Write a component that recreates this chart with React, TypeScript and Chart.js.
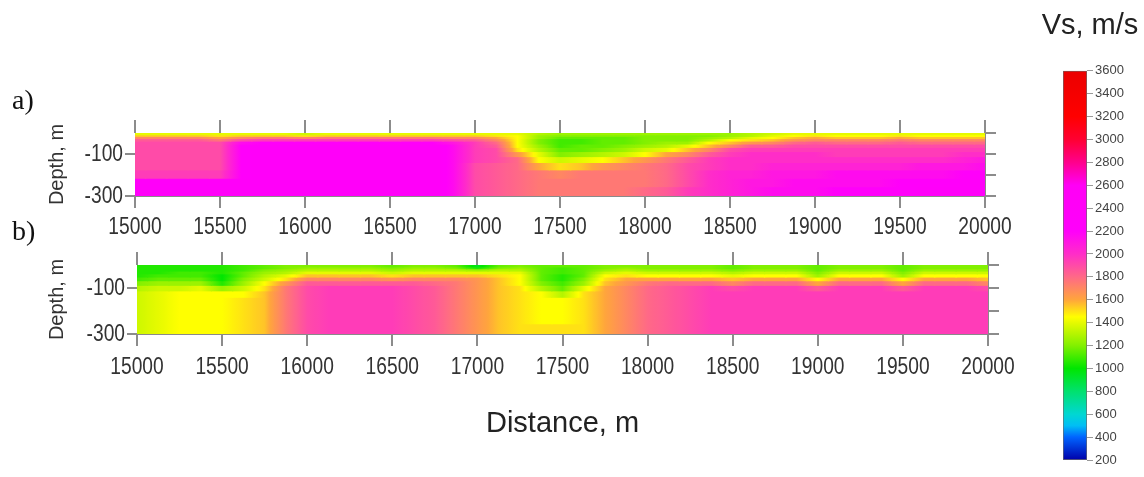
import React, { useEffect, useRef } from 'react';
import { Chart, registerables } from 'chart.js';

Chart.register(...registerables);

// ---------- data ----------
const DISTANCES = [
  15000, 15125, 15250, 15375, 15500, 15625, 15750, 15875, 16000, 16125, 16250,
  16375, 16500, 16625, 16750, 16875, 17000, 17125, 17250, 17375, 17500, 17625,
  17750, 17875, 18000, 18125, 18250, 18375, 18500, 18625, 18750, 18875, 19000,
  19125, 19250, 19375, 19500, 19625, 19750, 19875, 20000,
];
// depth layer edges (m below surface)
const DEPTH_EDGES = [0, 8, 16, 26, 38, 52, 68, 88, 112, 140, 175, 215, 255, 300];

// Vs (m/s) profile per station, one value per depth layer — section a)
const VS_A: number[][] = [
  [1400, 1550, 1700, 1850, 1900, 1900, 1900, 1900, 1900, 1900, 1950, 2300, 2300],
  [1400, 1550, 1700, 1850, 1900, 1900, 1900, 1900, 1900, 1900, 1950, 2300, 2300],
  [1400, 1550, 1700, 1850, 1900, 1900, 1900, 1900, 1900, 1900, 1950, 2300, 2300],
  [1400, 1550, 1700, 1850, 1900, 1900, 1900, 1900, 1900, 1900, 1950, 2300, 2300],
  [1400, 1500, 1600, 1750, 1900, 1900, 1900, 1900, 1900, 1900, 1950, 2300, 2300],
  [1400, 1550, 1700, 1900, 2150, 2200, 2200, 2200, 2200, 2200, 2200, 2300, 2300],
  [1400, 1550, 1750, 1950, 2200, 2300, 2300, 2300, 2300, 2300, 2300, 2300, 2300],
  [1400, 1550, 1750, 1950, 2200, 2300, 2300, 2300, 2300, 2300, 2300, 2300, 2300],
  [1350, 1500, 1700, 1950, 2200, 2300, 2300, 2300, 2300, 2300, 2300, 2300, 2300],
  [1400, 1550, 1750, 1950, 2200, 2300, 2300, 2300, 2300, 2300, 2300, 2300, 2300],
  [1400, 1550, 1750, 1950, 2200, 2300, 2300, 2300, 2300, 2300, 2300, 2300, 2300],
  [1400, 1550, 1750, 1950, 2200, 2300, 2300, 2300, 2300, 2300, 2300, 2300, 2300],
  [1400, 1550, 1750, 1950, 2200, 2300, 2300, 2300, 2300, 2300, 2300, 2300, 2300],
  [1400, 1550, 1750, 1950, 2200, 2300, 2300, 2300, 2300, 2300, 2300, 2300, 2300],
  [1400, 1550, 1750, 1950, 2200, 2300, 2300, 2300, 2300, 2300, 2300, 2300, 2300],
  [1400, 1550, 1700, 1900, 2100, 2150, 2150, 2150, 2150, 2150, 2150, 2150, 2150],
  [1400, 1550, 1700, 1850, 1950, 1950, 1950, 1950, 1950, 1900, 1900, 1900, 1900],
  [1400, 1500, 1600, 1700, 1800, 1850, 1900, 1900, 1900, 1850, 1850, 1850, 1850],
  [1400, 1450, 1450, 1450, 1450, 1450, 1500, 1650, 1800, 1800, 1800, 1800, 1800],
  [1300, 1250, 1250, 1200, 1200, 1250, 1300, 1400, 1450, 1600, 1750, 1750, 1750],
  [1250, 1200, 1150, 1100, 1100, 1100, 1150, 1200, 1350, 1500, 1700, 1750, 1750],
  [1250, 1200, 1150, 1100, 1100, 1150, 1150, 1250, 1400, 1550, 1750, 1750, 1750],
  [1250, 1200, 1150, 1150, 1150, 1150, 1200, 1300, 1450, 1650, 1750, 1750, 1750],
  [1250, 1200, 1150, 1150, 1150, 1200, 1250, 1350, 1550, 1700, 1750, 1750, 1750],
  [1250, 1200, 1200, 1200, 1200, 1250, 1350, 1450, 1650, 1750, 1750, 1750, 1800],
  [1250, 1200, 1200, 1200, 1250, 1300, 1400, 1600, 1750, 1800, 1800, 1800, 1850],
  [1250, 1200, 1200, 1200, 1250, 1400, 1550, 1700, 1850, 1900, 1900, 1900, 1950],
  [1250, 1200, 1250, 1300, 1450, 1550, 1700, 1850, 1950, 1950, 2000, 2000, 2000],
  [1250, 1250, 1300, 1450, 1550, 1700, 1900, 1950, 2000, 2000, 2050, 2050, 2050],
  [1300, 1300, 1400, 1500, 1650, 1850, 1950, 2000, 2000, 2000, 2050, 2100, 2100],
  [1350, 1400, 1450, 1550, 1700, 1850, 1950, 2000, 2000, 2050, 2100, 2100, 2150],
  [1400, 1450, 1550, 1650, 1800, 1900, 1950, 2000, 2000, 2050, 2100, 2150, 2150],
  [1400, 1500, 1600, 1700, 1850, 1900, 1950, 2000, 2000, 2050, 2100, 2150, 2150],
  [1400, 1450, 1550, 1700, 1800, 1900, 1950, 1950, 2000, 2050, 2150, 2150, 2200],
  [1400, 1450, 1550, 1700, 1800, 1900, 1950, 1950, 2000, 2050, 2150, 2150, 2200],
  [1400, 1450, 1550, 1700, 1800, 1900, 1950, 1950, 2000, 2050, 2150, 2150, 2200],
  [1400, 1500, 1600, 1750, 1850, 1900, 1950, 1950, 2000, 2050, 2150, 2200, 2200],
  [1400, 1450, 1550, 1700, 1800, 1900, 1950, 1950, 2000, 2100, 2150, 2200, 2250],
  [1400, 1450, 1550, 1700, 1800, 1900, 1950, 1950, 2000, 2100, 2150, 2200, 2250],
  [1400, 1450, 1550, 1700, 1800, 1900, 1950, 2000, 2050, 2100, 2200, 2250, 2300],
  [1400, 1450, 1550, 1700, 1800, 1900, 1950, 2000, 2100, 2150, 2250, 2300, 2300],
];

// section b)
const VS_B: number[][] = [
  [1050, 1050, 1050, 1050, 1050, 1100, 1200, 1300, 1350, 1350, 1350, 1350, 1350],
  [1050, 1050, 1050, 1050, 1100, 1150, 1250, 1350, 1400, 1400, 1400, 1400, 1400],
  [1050, 1050, 1050, 1100, 1100, 1150, 1250, 1350, 1450, 1450, 1450, 1450, 1450],
  [1050, 1050, 1050, 1100, 1100, 1150, 1250, 1400, 1450, 1450, 1450, 1450, 1450],
  [1050, 1050, 1050, 1050, 1000, 1000, 1050, 1250, 1450, 1450, 1450, 1450, 1450],
  [1100, 1100, 1100, 1150, 1150, 1200, 1250, 1350, 1450, 1500, 1500, 1500, 1500],
  [1150, 1150, 1200, 1250, 1300, 1350, 1450, 1500, 1550, 1550, 1550, 1550, 1550],
  [1200, 1200, 1250, 1300, 1400, 1500, 1650, 1750, 1750, 1750, 1750, 1750, 1750],
  [1200, 1250, 1300, 1400, 1550, 1700, 1850, 1900, 1900, 1900, 1900, 1900, 1900],
  [1200, 1250, 1300, 1400, 1550, 1700, 1850, 1950, 1950, 1950, 1950, 1950, 1950],
  [1200, 1250, 1300, 1400, 1550, 1700, 1850, 1950, 1950, 1950, 1950, 1950, 1950],
  [1200, 1250, 1300, 1400, 1550, 1700, 1850, 1950, 1950, 1950, 1950, 1950, 1950],
  [1150, 1200, 1250, 1350, 1500, 1650, 1850, 1950, 1950, 1950, 1950, 1950, 1950],
  [1200, 1250, 1300, 1400, 1550, 1700, 1850, 1900, 1900, 1900, 1900, 1900, 1900],
  [1200, 1250, 1300, 1400, 1550, 1700, 1800, 1850, 1850, 1850, 1850, 1850, 1850],
  [1150, 1200, 1300, 1400, 1550, 1700, 1750, 1750, 1750, 1750, 1750, 1750, 1750],
  [950, 1050, 1250, 1400, 1550, 1650, 1650, 1650, 1650, 1650, 1650, 1650, 1650],
  [1150, 1200, 1300, 1400, 1500, 1550, 1550, 1550, 1550, 1550, 1550, 1550, 1550],
  [1200, 1250, 1300, 1400, 1450, 1450, 1450, 1500, 1500, 1500, 1500, 1500, 1500],
  [1150, 1150, 1150, 1150, 1150, 1150, 1200, 1300, 1450, 1450, 1450, 1450, 1500],
  [1150, 1100, 1100, 1100, 1050, 1050, 1100, 1150, 1300, 1450, 1450, 1450, 1500],
  [1150, 1150, 1150, 1150, 1150, 1200, 1250, 1400, 1500, 1500, 1500, 1500, 1500],
  [1200, 1200, 1250, 1350, 1450, 1500, 1550, 1600, 1600, 1600, 1600, 1600, 1600],
  [1200, 1250, 1300, 1400, 1500, 1600, 1650, 1700, 1700, 1700, 1700, 1700, 1700],
  [1200, 1200, 1250, 1350, 1450, 1600, 1750, 1800, 1800, 1800, 1800, 1800, 1800],
  [1200, 1200, 1250, 1350, 1450, 1600, 1800, 1850, 1850, 1850, 1850, 1850, 1850],
  [1200, 1200, 1250, 1350, 1450, 1600, 1800, 1900, 1900, 1900, 1900, 1900, 1900],
  [1200, 1200, 1250, 1350, 1450, 1600, 1800, 1950, 1950, 1950, 1950, 1950, 1950],
  [1150, 1150, 1200, 1300, 1400, 1550, 1700, 1900, 1950, 1950, 1950, 1950, 1950],
  [1200, 1200, 1250, 1350, 1450, 1600, 1800, 1950, 1950, 1950, 1950, 1950, 1950],
  [1200, 1200, 1250, 1350, 1450, 1600, 1800, 1950, 1950, 1950, 1950, 1950, 1950],
  [1200, 1200, 1250, 1350, 1450, 1600, 1800, 1950, 1950, 1950, 1950, 1950, 1950],
  [1150, 1150, 1150, 1200, 1250, 1450, 1600, 1850, 1950, 1950, 1950, 1950, 1950],
  [1200, 1200, 1250, 1350, 1450, 1600, 1800, 1950, 1950, 1950, 1950, 1950, 1950],
  [1200, 1200, 1250, 1350, 1450, 1600, 1800, 1950, 1950, 1950, 1950, 1950, 1950],
  [1200, 1200, 1250, 1350, 1450, 1600, 1800, 1950, 1950, 1950, 1950, 1950, 1950],
  [1150, 1150, 1150, 1200, 1250, 1450, 1600, 1850, 1950, 1950, 1950, 1950, 1950],
  [1200, 1200, 1250, 1350, 1450, 1600, 1800, 1950, 1950, 1950, 1950, 1950, 1950],
  [1200, 1200, 1250, 1350, 1450, 1600, 1800, 1950, 1950, 1950, 1950, 1950, 1950],
  [1200, 1200, 1250, 1350, 1450, 1600, 1800, 1950, 1950, 1950, 1950, 1950, 1950],
  [1200, 1200, 1250, 1350, 1450, 1550, 1700, 1900, 1950, 1950, 1950, 1950, 1950],
];

const DISTANCE_MIN = 15000;
const DISTANCE_MAX = 20000;
const DISTANCE_STEP = 500;
const DEPTH_MIN = -300;
const DEPTH_MAX = 0;
const DEPTH_STEP = 100;
const DEPTH_LABELED = [-100, -300];
const VS_MIN = 200;
const VS_MAX = 3600;
const VS_STEP = 200;

// colour scale: [Vs, r, g, b]
const COLOR_STOPS: [number, number, number, number][] = [
  [200, 0, 0, 170],
  [400, 0, 100, 255],
  [500, 0, 190, 245],
  [600, 0, 215, 210],
  [800, 0, 225, 110],
  [1000, 0, 230, 0],
  [1200, 130, 240, 0],
  [1400, 230, 250, 0],
  [1450, 255, 255, 0],
  [1600, 255, 165, 60],
  [1800, 255, 105, 135],
  [2000, 255, 45, 200],
  [2200, 255, 0, 250],
  [2600, 255, 0, 245],
  [2800, 255, 0, 140],
  [3000, 255, 0, 50],
  [3200, 255, 0, 0],
  [3600, 235, 0, 0],
];

// ---------- helpers ----------
const SANS = "'Liberation Sans', Arial, sans-serif";
const TEXT = '#333333';
const TICK = '#8c8c8c';
const TICK_FONT = 24;
const TICK_SQUEEZE = 0.8;

function colorAt(v: number): string {
  const s = COLOR_STOPS;
  let c = [s[s.length - 1][1], s[s.length - 1][2], s[s.length - 1][3]];
  if (v <= s[0][0]) c = [s[0][1], s[0][2], s[0][3]];
  else {
    for (let k = 0; k < s.length - 1; k++) {
      const a = s[k], b = s[k + 1];
      if (v <= b[0]) {
        const t = (v - a[0]) / (b[0] - a[0]);
        c = [a[1] + (b[1] - a[1]) * t, a[2] + (b[2] - a[2]) * t, a[3] + (b[3] - a[3]) * t];
        break;
      }
    }
  }
  return `rgb(${Math.round(c[0])},${Math.round(c[1])},${Math.round(c[2])})`;
}

function cellFill(ctx: any, vs: number[][], r: number) {
  const i = ctx.dataIndex ?? 0;
  const v = vs[i][r];
  const chart = ctx.chart;
  const xs = chart.scales && chart.scales.x;
  if (!chart.chartArea || !xs || ctx.type !== 'data') return colorAt(v);
  const n = DISTANCES.length;
  const xc = xs.getPixelForValue(DISTANCES[i]);
  const half = (xs.getPixelForValue(DISTANCES[1]) - xs.getPixelForValue(DISTANCES[0])) / 2;
  const vl = i > 0 ? vs[i - 1][r] : v;
  const vr = i < n - 1 ? vs[i + 1][r] : v;
  const g = chart.ctx.createLinearGradient(xc - half, 0, xc + half, 0);
  const fr = [0, 0.125, 0.25, 0.375, 0.5, 0.625, 0.75, 0.875, 1];
  fr.forEach((f) => {
    const val = f < 0.5 ? v + (vl - v) * (0.5 - f) : v + (vr - v) * (f - 0.5);
    g.addColorStop(f, colorAt(val));
  });
  return g;
}

function sectionDatasets(vs: number[][]) {
  return DEPTH_EDGES.slice(0, -1).map((top, r) => ({
    label: `layer ${r}`,
    data: DISTANCES.map((x) => ({ x, y: [-top, -DEPTH_EDGES[r + 1]] })),
    backgroundColor: (ctx: any) => cellFill(ctx, vs, r),
    borderWidth: 0,
    grouped: false,
    barPercentage: 1,
    categoryPercentage: 1,
    inflateAmount: 0.6,
  }));
}

// draws the scale's own tick labels in a condensed face (narrow sans look)
const condensedTicks = {
  id: 'condensedTicks',
  afterDraw(chart: any) {
    const ctx = chart.ctx;
    ['x', 'y'].forEach((id) => {
      const s = chart.scales[id];
      if (!s) return;
      const o = s.options;
      ctx.save();
      ctx.font = `${TICK_FONT}px ${SANS}`;
      ctx.fillStyle = TEXT;
      ctx.textBaseline = 'middle';
      s.ticks.forEach((t: any) => {
        const label = t.label;
        if (!label) return;
        const p = s.getPixelForValue(t.value);
        let x: number, y: number;
        if (id === 'x') {
          x = p;
          y = s.top + o.grid.tickLength + o.ticks.padding + (TICK_FONT * 1.2) / 2;
          ctx.textAlign = 'center';
        } else {
          x = s.right - o.grid.tickLength - o.ticks.padding;
          y = p;
          ctx.textAlign = 'right';
        }
        ctx.save();
        ctx.translate(x, y);
        ctx.scale(TICK_SQUEEZE, 1);
        ctx.fillText(String(label), 0, 0);
        ctx.restore();
      });
      ctx.restore();
    });
  },
};

interface SectionLayout {
  left: number;
  right: number;
  top: number;
  bottom: number;
  topTick: number;
  labelPad: number;
  titlePad: number;
}

function sectionConfig(vs: number[][], L: SectionLayout, xTitle: string | null): any {
  const grid = (len: number) => ({
    drawOnChartArea: false,
    offset: false,
    tickLength: len,
    color: TICK,
    lineWidth: 2,
  });
  const border = { display: true, color: '#8a8a8a', width: 1 };
  return {
    type: 'bar',
    data: { datasets: sectionDatasets(vs) },
    plugins: [condensedTicks],
    options: {
      responsive: false,
      animation: false,
      events: [],
      layout: { padding: 0 },
      plugins: { legend: { display: false }, tooltip: { enabled: false }, title: { display: false } },
      scales: {
        x: {
          type: 'linear',
          position: 'bottom',
          min: DISTANCE_MIN,
          max: DISTANCE_MAX,
          offset: false,
          grid: grid(12),
          border,
          ticks: {
            stepSize: DISTANCE_STEP,
            autoSkip: false,
            maxRotation: 0,
            padding: L.labelPad,
            color: 'rgba(0,0,0,0)',
            font: { family: SANS, size: TICK_FONT },
            callback: (v: any) => String(v),
          },
          title: xTitle
            ? {
                display: true,
                text: xTitle,
                color: '#222222',
                font: { family: SANS, size: 29 },
                padding: { top: 0, bottom: 9 },
              }
            : { display: false },
          afterFit: (s: any) => { s.height = L.bottom; },
        },
        xTop: {
          type: 'linear',
          position: 'top',
          min: DISTANCE_MIN,
          max: DISTANCE_MAX,
          offset: false,
          grid: grid(L.topTick),
          border,
          ticks: { stepSize: DISTANCE_STEP, autoSkip: false, maxRotation: 0, callback: () => '' },
          afterFit: (s: any) => { s.height = L.top; },
        },
        y: {
          type: 'linear',
          position: 'left',
          min: DEPTH_MIN,
          max: DEPTH_MAX,
          grid: grid(10),
          border,
          ticks: {
            stepSize: DEPTH_STEP,
            padding: 2,
            color: 'rgba(0,0,0,0)',
            font: { family: SANS, size: TICK_FONT },
            callback: (v: any) => (DEPTH_LABELED.includes(v) ? String(v) : ''),
          },
          title: {
            display: true,
            text: 'Depth, m',
            color: TEXT,
            font: { family: SANS, size: 20 },
            padding: { top: L.titlePad, bottom: 0 },
          },
          afterFit: (s: any) => { s.width = L.left; },
        },
        yRight: {
          type: 'linear',
          position: 'right',
          min: DEPTH_MIN,
          max: DEPTH_MAX,
          grid: grid(11),
          border,
          ticks: { stepSize: DEPTH_STEP, callback: () => '' },
          afterFit: (s: any) => { s.width = L.right; },
        },
      },
    },
  };
}

function colorbarConfig(): any {
  return {
    type: 'bar',
    data: {
      labels: ['Vs'],
      datasets: [
        {
          label: 'Vs, m/s',
          data: [[VS_MIN, VS_MAX]],
          backgroundColor: (ctx: any) => {
            const chart = ctx.chart;
            const ys = chart.scales && chart.scales.y;
            if (!chart.chartArea || !ys) return colorAt(1500);
            const g = chart.ctx.createLinearGradient(0, ys.getPixelForValue(VS_MIN), 0, ys.getPixelForValue(VS_MAX));
            COLOR_STOPS.forEach((s) => g.addColorStop((s[0] - VS_MIN) / (VS_MAX - VS_MIN), colorAt(s[0])));
            return g;
          },
          borderColor: '#6a6a6a',
          borderWidth: 1,
          borderSkipped: false,
          barPercentage: 1,
          categoryPercentage: 1,
        },
      ],
    },
    options: {
      responsive: false,
      animation: false,
      events: [],
      layout: { padding: { left: 0, right: 0, top: 0, bottom: 17 } },
      plugins: {
        legend: { display: false },
        tooltip: { enabled: false },
        title: {
          display: true,
          text: 'Vs, m/s',
          color: '#222222',
          font: { family: SANS, size: 29, weight: 'normal' },
          padding: { top: 9, bottom: 27 },
        },
      },
      scales: {
        x: { display: false, offset: true },
        yLeft: {
          position: 'left',
          min: VS_MIN,
          max: VS_MAX,
          grid: { display: false },
          border: { display: false },
          ticks: { display: false },
          afterFit: (s: any) => { s.width = 27; },
        },
        y: {
          position: 'right',
          min: VS_MIN,
          max: VS_MAX,
          grid: { drawOnChartArea: false, tickLength: 6, color: '#999999', lineWidth: 1 },
          border: { display: false },
          ticks: {
            stepSize: VS_STEP,
            padding: 2,
            color: '#444444',
            font: { family: SANS, size: 13 },
            callback: (v: any) => String(v),
          },
          afterFit: (s: any) => { s.width = 57; },
        },
      },
    },
  };
}

function useChart(ref: React.RefObject<HTMLCanvasElement>, make: () => any) {
  useEffect(() => {
    if (!ref.current) return;
    const chart = new Chart(ref.current, make());
    return () => chart.destroy();
  }, []);
}

export default function App() {
  const aRef = useRef<HTMLCanvasElement>(null);
  const bRef = useRef<HTMLCanvasElement>(null);
  const cRef = useRef<HTMLCanvasElement>(null);

  useChart(aRef, () =>
    sectionConfig(VS_A, { left: 135, right: 45, top: 33, bottom: 44, topTick: 13, labelPad: 5, titlePad: 45 }, null)
  );
  useChart(bRef, () =>
    sectionConfig(VS_B, { left: 137, right: 42, top: 35, bottom: 116, topTick: 13, labelPad: 7, titlePad: 45 }, 'Distance, m')
  );
  useChart(cRef, colorbarConfig);

  const label: React.CSSProperties = {
    position: 'absolute',
    left: 12,
    fontFamily: "'Liberation Serif', 'Times New Roman', serif",
    fontSize: 28,
    lineHeight: '28px',
    color: '#111',
  };

  return (
    <div style={{ position: 'fixed', left: 0, top: 0, width: 1144, height: 477, background: '#fff', overflow: 'hidden' }}>
      <canvas ref={aRef} width={1030} height={140} style={{ position: 'absolute', left: 0, top: 100, width: 1030, height: 140 }} />
      <canvas ref={bRef} width={1030} height={220} style={{ position: 'absolute', left: 0, top: 230, width: 1030, height: 220 }} />
      <canvas ref={cRef} width={108} height={477} style={{ position: 'absolute', left: 1036, top: 0, width: 108, height: 477 }} />
      <div style={{ ...label, top: 86 }}>a)</div>
      <div style={{ ...label, top: 217 }}>b)</div>
    </div>
  );
}
